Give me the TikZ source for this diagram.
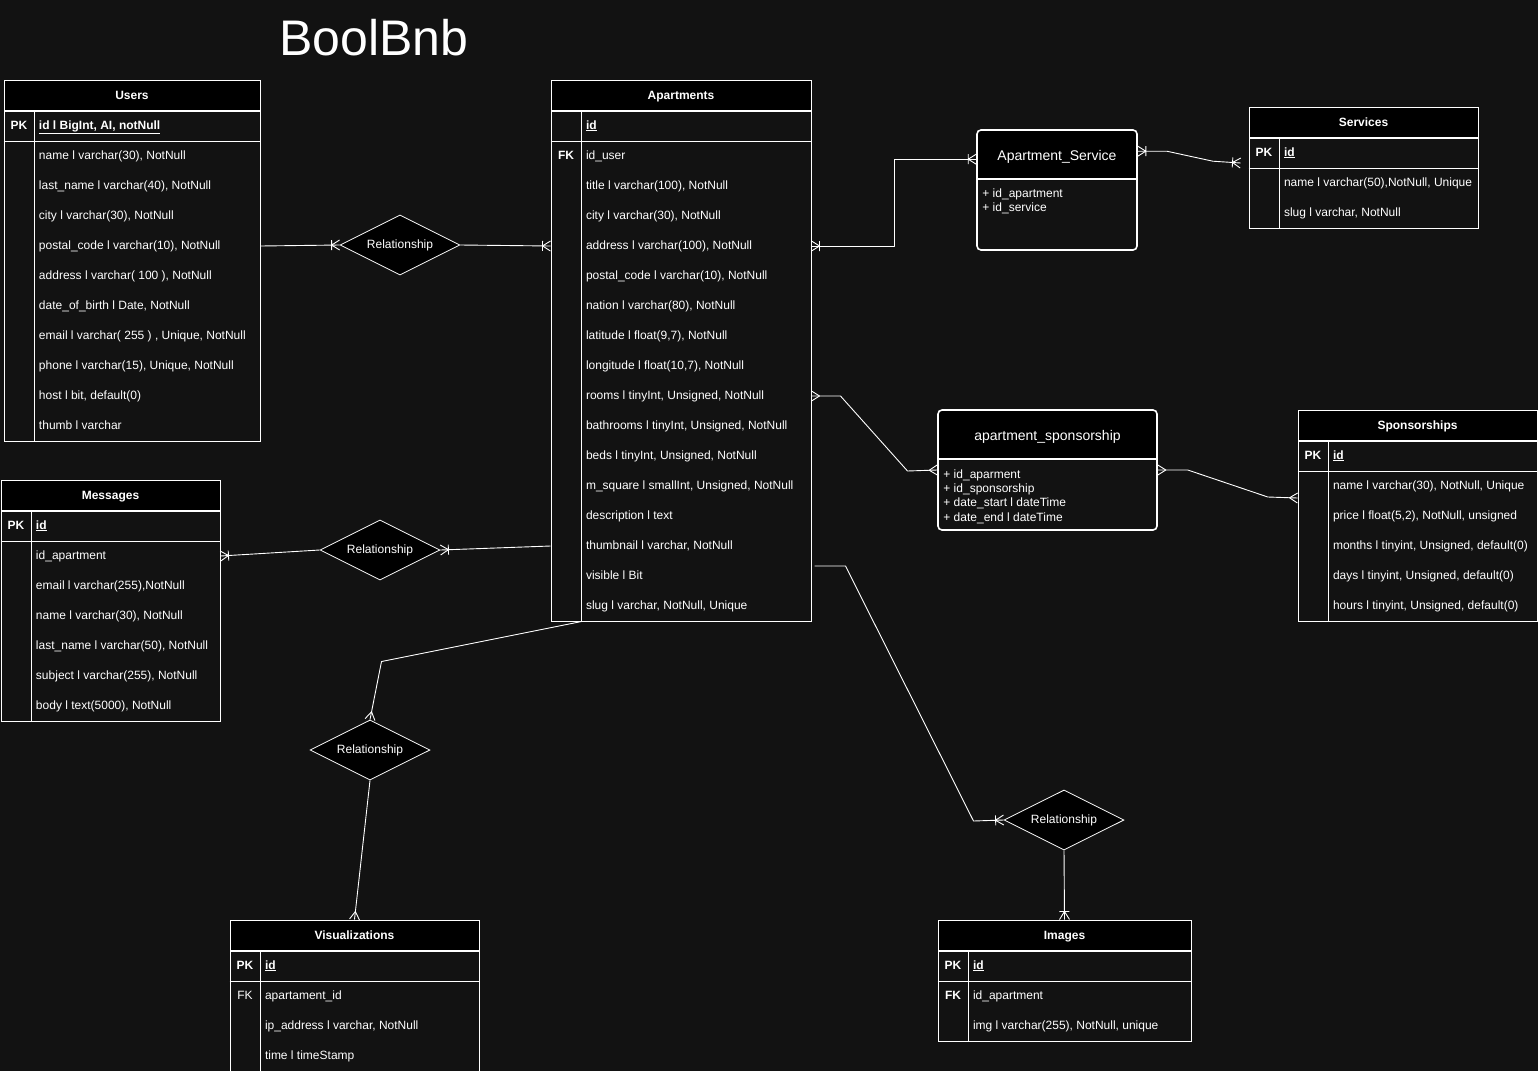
\documentclass[tikz,border=0pt]{standalone}
\usepackage{fontspec}
\setmainfont{Liberation Sans}
\usepackage{tikz}
\usetikzlibrary{shapes.geometric,arrows.meta,positioning,matrix}
\definecolor{bg}{RGB}{18,18,18}

\pgfdeclarearrow{
  name = Crow,
  parameters = {\the\pgfarrowlength,\the\pgfarrowwidth},
  setup code = {
    \pgfarrowssettipend{0pt}
    \pgfarrowssetlineend{0pt}
    \pgfarrowssetbackend{-\pgfarrowlength}
    \pgfarrowshullpoint{0pt}{.5\pgfarrowwidth}
    \pgfarrowshullpoint{0pt}{-.5\pgfarrowwidth}
    \pgfarrowshullpoint{-\pgfarrowlength}{0pt}
    \pgfarrowssavethe\pgfarrowlength
    \pgfarrowssavethe\pgfarrowwidth
  },
  drawing code = {
    \pgfsetdash{}{0pt}
    \pgfsetroundjoin
    \pgfpathmoveto{\pgfqpoint{0pt}{.5\pgfarrowwidth}}
    \pgfpathlineto{\pgfqpoint{-\pgfarrowlength}{0pt}}
    \pgfpathlineto{\pgfqpoint{0pt}{-.5\pgfarrowwidth}}
    \pgfusepathqstroke
  },
  defaults = {length=8pt, width=10pt}
}
\pgfdeclarearrow{
  name = CrowOne,
  parameters = {\the\pgfarrowlength,\the\pgfarrowwidth},
  setup code = {
    \pgfarrowssettipend{0pt}
    \pgfarrowssetlineend{0pt}
    \pgfarrowssetbackend{-\pgfarrowlength}
    \pgfarrowshullpoint{0pt}{.5\pgfarrowwidth}
    \pgfarrowshullpoint{0pt}{-.5\pgfarrowwidth}
    \pgfarrowshullpoint{-\pgfarrowlength}{.5\pgfarrowwidth}
    \pgfarrowshullpoint{-\pgfarrowlength}{-.5\pgfarrowwidth}
    \pgfarrowssavethe\pgfarrowlength
    \pgfarrowssavethe\pgfarrowwidth
  },
  drawing code = {
    \pgfsetdash{}{0pt}
    \pgfsetroundjoin
    \pgfpathmoveto{\pgfqpoint{0pt}{.5\pgfarrowwidth}}
    \pgfpathlineto{\pgfqpoint{-\pgfarrowlength}{0pt}}
    \pgfpathlineto{\pgfqpoint{0pt}{-.5\pgfarrowwidth}}
    \pgfpathmoveto{\pgfqpoint{-\pgfarrowlength}{.5\pgfarrowwidth}}
    \pgfpathlineto{\pgfqpoint{-\pgfarrowlength}{-.5\pgfarrowwidth}}
    \pgfusepathqstroke
  },
  defaults = {length=8pt, width=10pt}
}

\tikzset{
  thead/.style={rectangle,draw=white,line width=1pt,fill=black,text=white,minimum height=30,
                inner sep=0pt,text height=10pt,text depth=2pt,font=\fontsize{12}{14}\selectfont\bfseries},
  keycell/.style={text width=30pt,inner xsep=0pt,align=center},
  fld/.style={inner xsep=5pt,align=flush left},
  tbl/.style={matrix of nodes,draw=white,line width=1pt,fill=bg,inner sep=0pt,
              row sep=0pt,column sep=0pt,nodes in empty cells,
              nodes={text=white,minimum height=30,inner ysep=0pt,text height=9pt,text depth=3pt,
                     font=\fontsize{12}{14}\selectfont},
              column 1/.style={nodes={keycell}},
              column 2/.style={nodes={fld,text width=#1}}},
  tline/.style={draw=white,line width=1pt},
  relbox/.style={diamond,aspect=2,draw=white,line width=0.8pt,fill=black,text=white,
                 minimum width=120,minimum height=60,inner sep=0pt,font=\fontsize{12}{14}\selectfont},
  erbox/.style={rectangle,rounded corners=4pt,draw=white,line width=1.6pt,fill=bg,
                minimum width=#1,minimum height=120,inner sep=0pt,
                path picture={\fill[black] (path picture bounding box.north west)
                   rectangle ([yshift=-50pt]path picture bounding box.north east);}},
  boxtitle/.style={text=white,inner sep=0pt,text height=10pt,text depth=4pt,font=\fontsize{14}{16}\selectfont},
  boxattr/.style={text=white,inner sep=0pt,align=left,font=\fontsize{12}{14.4}\selectfont},
  link/.style={draw=white,line width=0.9pt,line join=round},
}

\begin{document}
\begin{tikzpicture}[x=1pt,y=-1pt]
  \fill[bg] (0,0) rectangle (1538,1071);
  \useasboundingbox (0,0) rectangle (1538,1071);

  \node[text=white,inner sep=0pt,font=\fontsize{50}{60}\selectfont] (title) at (374,38) {BoolBnb};

  % users
  \node[thead,minimum width=256] (usersH) at (132,95) {Users};
  \matrix[tbl=216pt,below=0pt of usersH] (users) {
    \textbf{PK} & \underline{\textbf{id l BigInt, AI, notNull}} \\
    & name l varchar(30), NotNull \\
    & last\_name l varchar(40), NotNull \\
    & city l varchar(30), NotNull \\
    & postal\_code l varchar(10), NotNull \\
    & address l varchar( 100 ), NotNull \\
    & date\_of\_birth l Date, NotNull \\
    & email l varchar( 255 ) , Unique, NotNull \\
    & phone l varchar(15), Unique, NotNull \\
    & host l bit, default(0) \\
    & thumb l varchar \\
  };
  \draw[tline] (users-1-1.south west) -- (users-1-2.south east);
  \draw[tline] (users-1-1.north east) -- (users-1-1.north east |- users.south);

  % apartments
  \node[thead,minimum width=260] (aptH) at (681,95) {Apartments};
  \matrix[tbl=220pt,below=0pt of aptH] (apt) {
    & \underline{\textbf{id}} \\
    \textbf{FK} & id\_user \\
    & title l varchar(100), NotNull \\
    & city l varchar(30), NotNull \\
    & address l varchar(100), NotNull \\
    & postal\_code l varchar(10), NotNull \\
    & nation l varchar(80), NotNull \\
    & latitude l float(9,7), NotNull \\
    & longitude l float(10,7), NotNull \\
    & rooms l tinyInt, Unsigned, NotNull \\
    & bathrooms l tinyInt, Unsigned, NotNull \\
    & beds l tinyInt, Unsigned, NotNull \\
    & m\_square l smallInt, Unsigned, NotNull \\
    & description l text \\
    & thumbnail l varchar, NotNull \\
    & visible l Bit \\
    & slug l varchar, NotNull, Unique \\
  };
  \draw[tline] (apt-1-1.south west) -- (apt-1-2.south east);
  \draw[tline] (apt-1-1.north east) -- (apt-1-1.north east |- apt.south);

  % messages
  \node[thead,minimum width=219] (msgH) at (110.5,495) {Messages};
  \matrix[tbl=179pt,below=0pt of msgH] (msg) {
    \textbf{PK} & \underline{\textbf{id}} \\
    & id\_apartment \\
    & email l varchar(255),NotNull \\
    & name l varchar(30), NotNull \\
    & last\_name l varchar(50), NotNull \\
    & subject l varchar(255), NotNull \\
    & body l text(5000), NotNull \\
  };
  \draw[tline] (msg-1-1.south west) -- (msg-1-2.south east);
  \draw[tline] (msg-1-1.north east) -- (msg-1-1.north east |- msg.south);

  % services
  \node[thead,minimum width=229] (svcH) at (1363.5,122) {Services};
  \matrix[tbl=189pt,below=0pt of svcH] (svc) {
    \textbf{PK} & \underline{\textbf{id}} \\
    & name l varchar(50),NotNull, Unique \\
    & slug l varchar, NotNull \\
  };
  \draw[tline] (svc-1-1.south west) -- (svc-1-2.south east);
  \draw[tline] (svc-1-1.north east) -- (svc-1-1.north east |- svc.south);

  % sponsorships
  \node[thead,minimum width=239] (sponsH) at (1417.5,425) {Sponsorships};
  \matrix[tbl=199pt,below=0pt of sponsH] (spons) {
    \textbf{PK} & \underline{\textbf{id}} \\
    & name l varchar(30), NotNull, Unique \\
    & price l float(5,2), NotNull, unsigned \\
    & months l tinyint, Unsigned, default(0) \\
    & days l tinyint, Unsigned, default(0) \\
    & hours l tinyint, Unsigned, default(0) \\
  };
  \draw[tline] (spons-1-1.south west) -- (spons-1-2.south east);
  \draw[tline] (spons-1-1.north east) -- (spons-1-1.north east |- spons.south);

  % visualizations
  \node[thead,minimum width=249] (visH) at (354.5,935) {Visualizations};
  \matrix[tbl=209pt,below=0pt of visH] (vis) {
    \textbf{PK} & \underline{\textbf{id}} \\
    FK & apartament\_id \\
    & ip\_address l varchar, NotNull \\
    & time l timeStamp \\
  };
  \draw[tline] (vis-1-1.south west) -- (vis-1-2.south east);
  \draw[tline] (vis-1-1.north east) -- (vis-1-1.north east |- vis.south);

  % images
  \node[thead,minimum width=253] (imgH) at (1064.5,935) {Images};
  \matrix[tbl=213pt,below=0pt of imgH] (img) {
    \textbf{PK} & \underline{\textbf{id}} \\
    \textbf{FK} & id\_apartment \\
    & img l varchar(255), NotNull, unique \\
  };
  \draw[tline] (img-1-1.south west) -- (img-1-2.south east);
  \draw[tline] (img-1-1.north east) -- (img-1-1.north east |- img.south);

  % pivot tables
  \node[erbox=160] (asvc) at (1057,190) {};
  \node[boxtitle] (asvcT) at ([yshift=-28pt]asvc.north) {Apartment\_Service};
  \node[boxattr,anchor=north west] (asvcA) at ([xshift=6pt,yshift=-59pt]asvc.north west)
     {+ id\_apartment\\+ id\_service};
  \draw[white,line width=1.6pt] ([yshift=-50pt]asvc.north west) -- ([yshift=-50pt]asvc.north east);

  \node[erbox=219] (aspon) at (1047.5,470) {};
  \node[boxtitle] (asponT) at ([yshift=-28pt]aspon.north) {apartment\_sponsorship};
  \node[boxattr,anchor=north west] (asponA) at ([xshift=6pt,yshift=-60pt]aspon.north west)
     {+ id\_aparment\\+ id\_sponsorship\\+ date\_start l dateTime\\+ date\_end l dateTime};
  \draw[white,line width=1.6pt] ([yshift=-50pt]aspon.north west) -- ([yshift=-50pt]aspon.north east);

  % relationships
  \node[relbox] (relUA) at (400,245) {Relationship};
  \node[relbox] (relMA) at (380,550) {Relationship};
  \node[relbox] (relVA) at (370,750) {Relationship};
  \node[relbox] (relIA) at (1064,820) {Relationship};

  \draw[link,-{CrowOne}] (users-5-2.east) -- (relUA.west);
  \draw[link,-{CrowOne}] (relUA.east) -- (apt-5-1.west);
  \draw[link,{CrowOne}-] (msg-2-2.east) -- (relMA.west);
  \draw[link,{CrowOne}-] (relMA.east) -- (apt-15-1.west);
  \draw[link,{CrowOne}-{CrowOne}] (apt-5-2.east) -- ++(83,0) |- ([yshift=-30pt]asvc.north west);
  \draw[link,{CrowOne}-{CrowOne}] ([yshift=-22pt]asvc.north east) -- ++(29,0) -- ++(46,10)
     -- ([xshift=-8pt,yshift=-10pt]svc-1-1.west);
  \draw[link,{Crow}-{Crow}] (apt-10-2.east) -- ++(29,0) -- ++(67,75) -- (aspon.west);
  \draw[link,{Crow}-{Crow}] (aspon.east) -- ++(30,0) -- ++(80,27) -- ([yshift=-12pt]spons-2-1.west);
  \draw[link,-{Crow}] (apt-17-1.south east) -- ++(-200,40) -- (relVA.north);
  \draw[link,-{Crow}] (relVA.south) -- (visH.north);
  \draw[link,-{CrowOne}] ([xshift=3pt,yshift=10pt]apt-16-2.east) -- ++(31,0) -- ++(128,255) -- (relIA.west);
  \draw[link,-{CrowOne}] (relIA.south) -- (imgH.north);
\end{tikzpicture}
\end{document}
